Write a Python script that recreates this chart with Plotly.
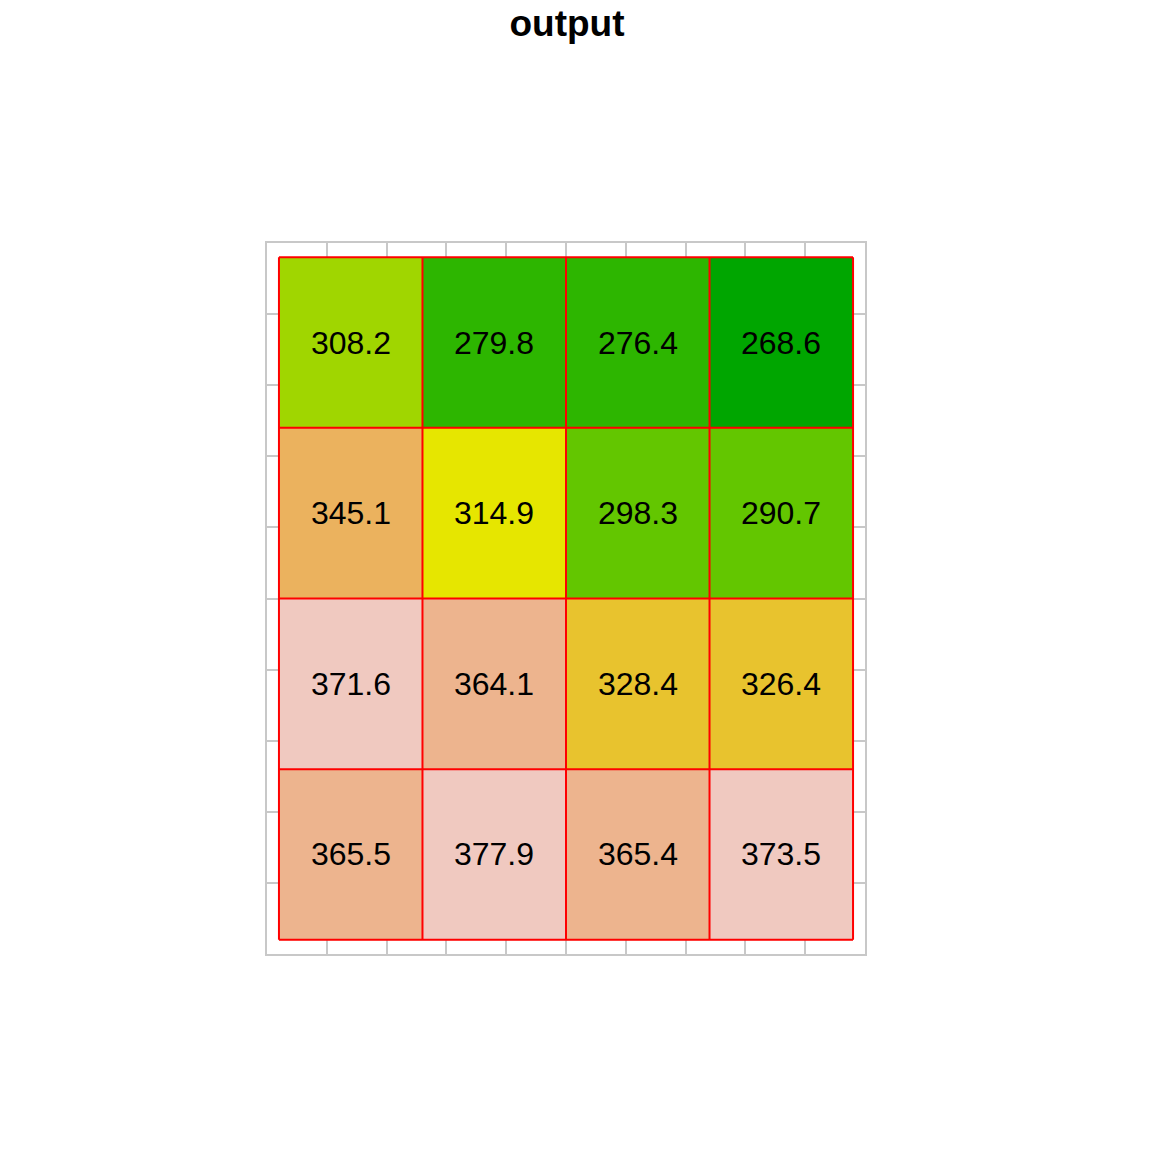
import plotly.graph_objects as go

# Data (rows listed top to bottom)
values = [
    [308.2, 279.8, 276.4, 268.6],
    [345.1, 314.9, 298.3, 290.7],
    [371.6, 364.1, 328.4, 326.4],
    [365.5, 377.9, 365.4, 373.5],
]
breaks = [260, 270, 280, 300, 310, 320, 340, 360, 370, 380]
palette = ["#00A600", "#2DB600", "#63C600", "#A0D600", "#E6E600",
           "#E8C32E", "#EBB25E", "#EDB48E", "#F0C9C0", "#F2F2F2"]

def bin_of(v):
    for i in range(len(breaks) - 1):
        if breaks[i] <= v < breaks[i + 1]:
            return i
    return len(breaks) - 2

nrow, ncol = len(values), len(values[0])
rows_bottom_up = values[::-1]
z = [[bin_of(v) for v in r] for r in rows_bottom_up]
text = [[f"{v:.1f}" for v in r] for r in rows_bottom_up]

n = len(palette)
cs = []
for i, c in enumerate(palette):
    cs.append([i / n, c])
    cs.append([(i + 1) / n, c])

x0, cw = 0.2, 2.4
fig = go.Figure()
fig.add_trace(go.Heatmap(
    z=z, text=text, texttemplate="%{text}",
    textfont=dict(size=32, color="black", family="Liberation Sans, Arial"),
    x0=x0 + cw / 2, dx=cw, y0=x0 + cw / 2, dy=cw,
    colorscale=cs, zmin=-0.5, zmax=n - 0.5, showscale=False,
    hoverinfo="skip",
))

# red cell borders
xs, ys = [], []
for i in range(ncol + 1):
    xv = x0 + i * cw
    xs += [xv, xv, None]
    ys += [x0, x0 + nrow * cw, None]
for j in range(nrow + 1):
    yv = x0 + j * cw
    xs += [x0, x0 + ncol * cw, None]
    ys += [yv, yv, None]
fig.add_trace(go.Scatter(x=xs, y=ys, mode="lines",
                         line=dict(color="red", width=2),
                         hoverinfo="skip", showlegend=False))

axis = dict(range=[0, 10], dtick=1, tick0=0, showgrid=True,
            gridcolor="#C8C8C8", gridwidth=2, showline=True, mirror=True,
            linecolor="#C8C8C8", linewidth=2, showticklabels=False,
            ticks="", zeroline=False, fixedrange=True)
fig.update_layout(
    width=1152, height=1152,
    margin=dict(l=267, r=287, t=243, b=198),
    paper_bgcolor="white", plot_bgcolor="white",
    xaxis=axis, yaxis=axis,
    showlegend=False,
    title=dict(text="<b>output</b>", xref="container", x=567 / 1152,
               xanchor="center", yref="container", y=1 - 23 / 1152,
               yanchor="middle",
               font=dict(size=37, color="black", family="Liberation Sans, Arial")),
    font=dict(family="Liberation Sans, Arial"),
)
fig.write_html("out.html",
               config={"displayModeBar": False, "staticPlot": True},
               post_script="document.body.style.margin='0';document.body.style.padding='0';")
